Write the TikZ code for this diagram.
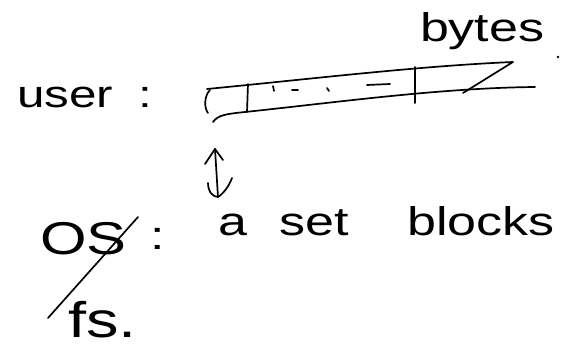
\documentclass[tikz,border=0pt]{standalone}
\usepackage{fontspec}
\newfontfamily\hand[FakeStretch=1.3]{Liberation Sans}
\tikzset{
  ink/.style={line width=1.7pt, line cap=round, line join=round, black},
  lbl/.style={anchor=base west, inner sep=0pt, outer sep=0pt, font=\hand}
}
\begin{document}
\begin{tikzpicture}[x=1pt,y=-1pt]
\useasboundingbox (0,0) rectangle (584,352);
% texts
\node[lbl, font=\hand\fontsize{38}{38}\selectfont] (user) at (17,108) {user};
\node[lbl, font=\hand\fontsize{38}{38}\selectfont] (ucolon) at (138,108) {:};
\node[lbl, font=\hand\fontsize{40}{40}\selectfont] (bytes) at (420,42) {bytes};
\node[lbl, font=\hand\fontsize{46}{46}\selectfont] (os) at (40,255) {OS};
\node[lbl, font=\hand\fontsize{40}{40}\selectfont] (oscolon) at (150,250) {:};
\node[lbl, font=\hand\fontsize{50}{50}\selectfont] (fs) at (68,338) {fs.};
\node[lbl, font=\hand\fontsize{40}{40}\selectfont] (blocks) at (218,236) {a\hspace{33pt}set\hspace{58pt}blocks};
% period after bytes
\fill (558,57) circle (1.3pt);
% strip (byte array)
\draw[ink] (210,90) .. controls (204,96) and (204,108) .. (208,113);
\draw[ink] (207,89) .. controls (320,78) and (420,66) .. (513,62) -- (463,93);
\draw[ink] (213,122) .. controls (218,115) and (226,114) .. (245,112)
  .. controls (340,102) and (440,88) .. (535,87);
\draw[ink] (248,84) -- (247,112);
\draw[ink] (415,67) -- (415,103);
\draw[ink] (273,86) -- (274,91);
\draw[ink] (292,90) -- (298,90);
\draw[ink] (327,88) -- (329,91);
\draw[ink] (367,85) -- (390,84);
% double arrow
\coordinate (atop) at (215,149);
\coordinate (abot) at (218,197);
\draw[ink] (atop) -- (abot);
\draw[ink] (205,164) -- (atop) -- (223,160);
\draw[ink] (208,183) .. controls (208,192) and (213,197) .. (abot) .. controls (224,193) and (229,186) .. (232,178);
% strike through OS
\draw[ink] (138,217) -- (48,318);
\end{tikzpicture}
\end{document}
